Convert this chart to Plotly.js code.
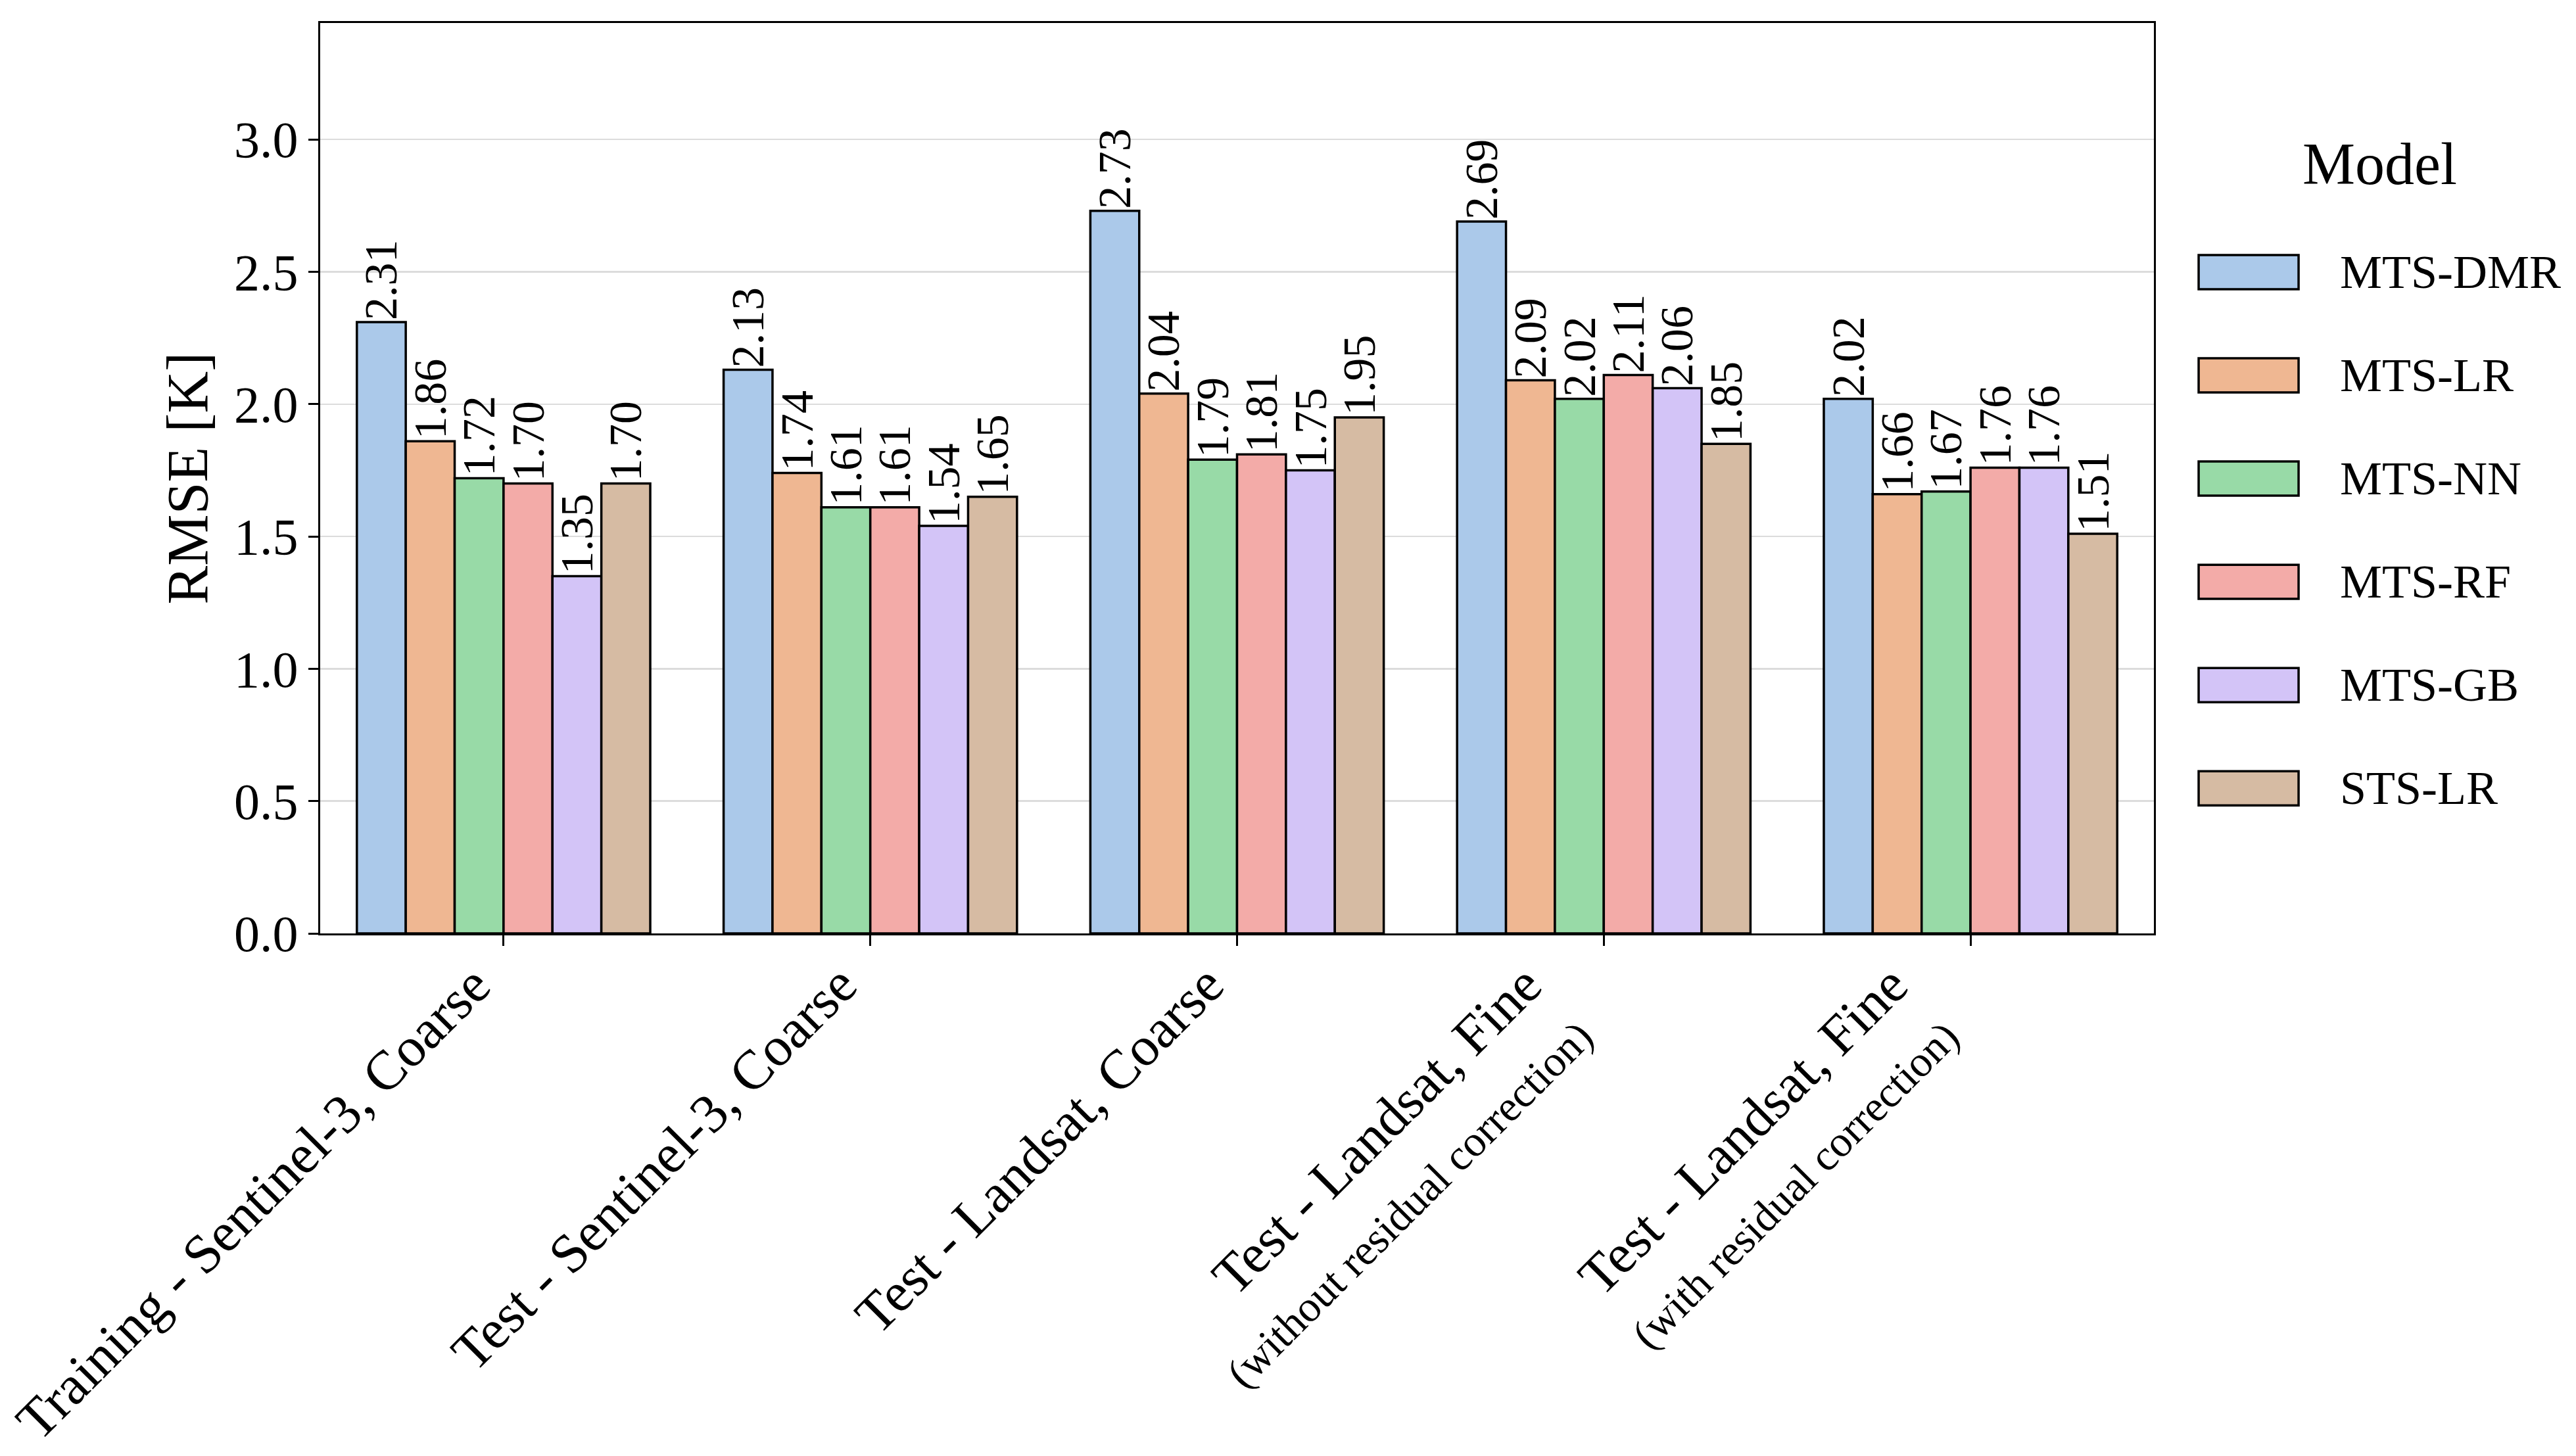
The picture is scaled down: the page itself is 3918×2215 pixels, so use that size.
<!DOCTYPE html>
<html>
<head>
<meta charset="utf-8">
<script src="https://cdn.plot.ly/plotly-3.0.1.min.js"></script>
<style>
  html, body { margin: 0; padding: 0; background: #ffffff; }
  #chart { width: 3918px; height: 2215px; }
</style>
</head>
<body>
<div id="chart"></div>
<script>
// ---- data ----
var categories = [
  'Training - Sentinel-3, Coarse',
  'Test - Sentinel-3, Coarse',
  'Test - Landsat, Coarse',
  'Test - Landsat, Fine (without residual correction)',
  'Test - Landsat, Fine (with residual correction)'
];
var tickLabels = [
  'Training - Sentinel-3, Coarse',
  'Test - Sentinel-3, Coarse',
  'Test - Landsat, Coarse',
  'Test - Landsat, Fine<br><span style="font-size:66px">(without residual correction)</span>',
  'Test - Landsat, Fine<br><span style="font-size:66px">(with residual correction)</span>'
];
var models = ['MTS-DMR', 'MTS-LR', 'MTS-NN', 'MTS-RF', 'MTS-GB', 'STS-LR'];
var mtsDMR = [2.31, 2.13, 2.73, 2.69, 2.02];
var mtsLR  = [1.86, 1.74, 2.04, 2.09, 1.66];
var mtsNN  = [1.72, 1.61, 1.79, 2.02, 1.67];
var mtsRF  = [1.70, 1.61, 1.81, 2.11, 1.76];
var mtsGB  = [1.35, 1.54, 1.75, 2.06, 1.76];
var stsLR  = [1.70, 1.65, 1.95, 1.85, 1.51];
var seriesValues = [mtsDMR, mtsLR, mtsNN, mtsRF, mtsGB, stsLR];
var colors = ['#abc9ea', '#efb792', '#98daa7', '#f3aba8', '#d3c4f7', '#d6bba3'];
var yTicks = [0, 0.5, 1.0, 1.5, 2.0, 2.5, 3.0];

var FONT = 'Liberation Serif';

var barFont = { family: FONT, size: 70, color: '#000000' };
var traces = models.map(function (name, i) {
  return {
    type: 'bar',
    name: name,
    x: categories,
    y: seriesValues[i],
    marker: { color: colors[i], line: { color: '#000000', width: 3.5 } },
    text: seriesValues[i].map(function (v) { return v.toFixed(2); }),
    textposition: 'outside',
    textangle: -90,
    constraintext: 'none',
    cliponaxis: false,
    textfont: barFont,
    outsidetextfont: barFont,
    showlegend: false,
    hoverinfo: 'x+y+name'
  };
});

var shapes = [];
var annotations = [];

// x tick labels (rotated, right/top aligned like the original)
categories.forEach(function (cat, i) {
  annotations.push({
    xref: 'x', yref: 'paper', x: cat, y: 0,
    xanchor: 'right', yanchor: 'top', yshift: -28,
    textangle: -45, align: 'right', showarrow: false,
    text: tickLabels[i], font: { family: FONT, size: 84, color: '#000000' }
  });
});

// custom legend (patches + labels) built from the model/colour arrays
var legX0 = 1.0244, legX1 = 1.0789, legTextX = 1.1008;
var legY0 = 0.7264, legStep = 0.1134, legH = 0.0375;
models.forEach(function (name, i) {
  var yc = legY0 - i * legStep;
  shapes.push({
    type: 'rect', xref: 'paper', yref: 'paper',
    x0: legX0, x1: legX1, y0: yc - legH / 2, y1: yc + legH / 2,
    fillcolor: colors[i], line: { color: '#000000', width: 3.5 }
  });
  annotations.push({
    xref: 'paper', yref: 'paper', x: legTextX, y: yc,
    xanchor: 'left', yanchor: 'middle', showarrow: false,
    text: name, font: { family: FONT, size: 72, color: '#000000' }
  });
});
annotations.push({
  xref: 'paper', yref: 'paper', x: 1.1233, y: 0.8448,
  xanchor: 'center', yanchor: 'middle', showarrow: false,
  text: 'Model', font: { family: FONT, size: 90, color: '#000000' }
});

var layout = {
  width: 3918,
  height: 2215,
  paper_bgcolor: '#ffffff',
  plot_bgcolor: '#ffffff',
  margin: { l: 487, r: 642, t: 35, b: 795, pad: 0 },
  barmode: 'group',
  bargap: 0.2,
  bargroupgap: 0,
  font: { family: FONT, size: 78, color: '#000000' },
  xaxis: {
    type: 'category',
    range: [-0.5, 4.5],
    tickmode: 'array',
    tickvals: categories,
    ticktext: tickLabels,
    showticklabels: false,
    ticks: 'outside',
    ticklen: 16,
    tickwidth: 3,
    tickcolor: '#000000',
    showline: true,
    linecolor: '#000000',
    linewidth: 3,
    mirror: true,
    showgrid: false
  },
  yaxis: {
    range: [0, 3.44],
    tickmode: 'array',
    tickvals: yTicks,
    tickformat: '.1f',
    ticks: 'outside',
    ticklen: 15,
    tickwidth: 3,
    tickcolor: '#000000',
    showline: true,
    linecolor: '#000000',
    linewidth: 3,
    mirror: true,
    showgrid: true,
    gridcolor: '#dcdcdc',
    gridwidth: 2.5,
    zeroline: false,
    tickfont: { family: FONT, size: 78, color: '#000000' },
    title: { text: 'RMSE [K]', font: { family: FONT, size: 88, color: '#000000' }, standoff: 12 }
  },
  shapes: shapes,
  annotations: annotations
};

Plotly.newPlot('chart', traces, layout, { displayModeBar: false, staticPlot: true });
</script>
</body>
</html>
